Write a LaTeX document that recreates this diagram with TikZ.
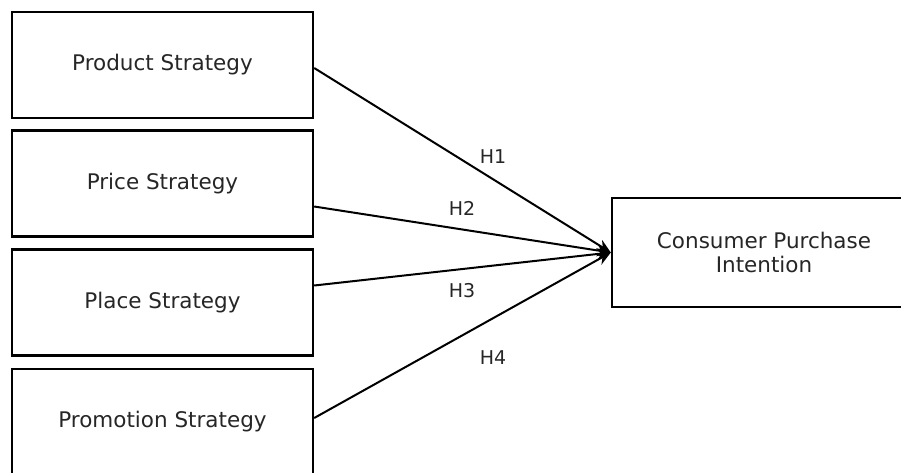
\documentclass[tikz,border=0pt]{standalone}
\usepackage{fontspec}
\setmainfont{DejaVu Sans}
\usetikzlibrary{arrows.meta}

\begin{document}
\begin{tikzpicture}[x=1pt, y=-1pt,
  box/.style={draw, line width=2.4pt, inner sep=0pt, align=center,
    minimum width=301pt, minimum height=106pt, text=black!85,
    font=\fontsize{21.5}{24}\selectfont},
  link/.style={line width=2pt, -{Stealth[length=14pt, width=12pt]}},
  hyp/.style={text=black!85, font=\fontsize{19}{21}\selectfont}]
% Frame of the picture, in pixels of the reference
\useasboundingbox (0,0) rectangle (901,472);
\clip (0,0) rectangle (901,472);

% The four strategies
\node[box] (product) at (162.5, 65) {Product Strategy};
\node[box] (price) at (162.5, 183.5) {Price Strategy};
\node[box] (place) at (162.5, 302.5) {Place Strategy};
\node[box] (promotion) at (162.5, 422) {Promotion Strategy};

% The outcome
\node[box, minimum width=304pt, minimum height=109pt] (intention) at (764, 252.5) {Consumer Purchase\\Intention};

% Hypotheses
\draw[link] ([yshift=-3pt]product.east) -- (intention.west);
\draw[link] ([yshift=-23pt]price.east) -- (intention.west);
\draw[link] ([yshift=17pt]place.east) -- (intention.west);
\draw[link] ([yshift=4pt]promotion.east) -- (intention.west);
\node[hyp] (h1) at (493, 157) {H1};
\node[hyp] (h2) at (462, 208) {H2};
\node[hyp] (h3) at (462, 291) {H3};
\node[hyp] (h4) at (493, 358) {H4};
\end{tikzpicture}
\end{document}
